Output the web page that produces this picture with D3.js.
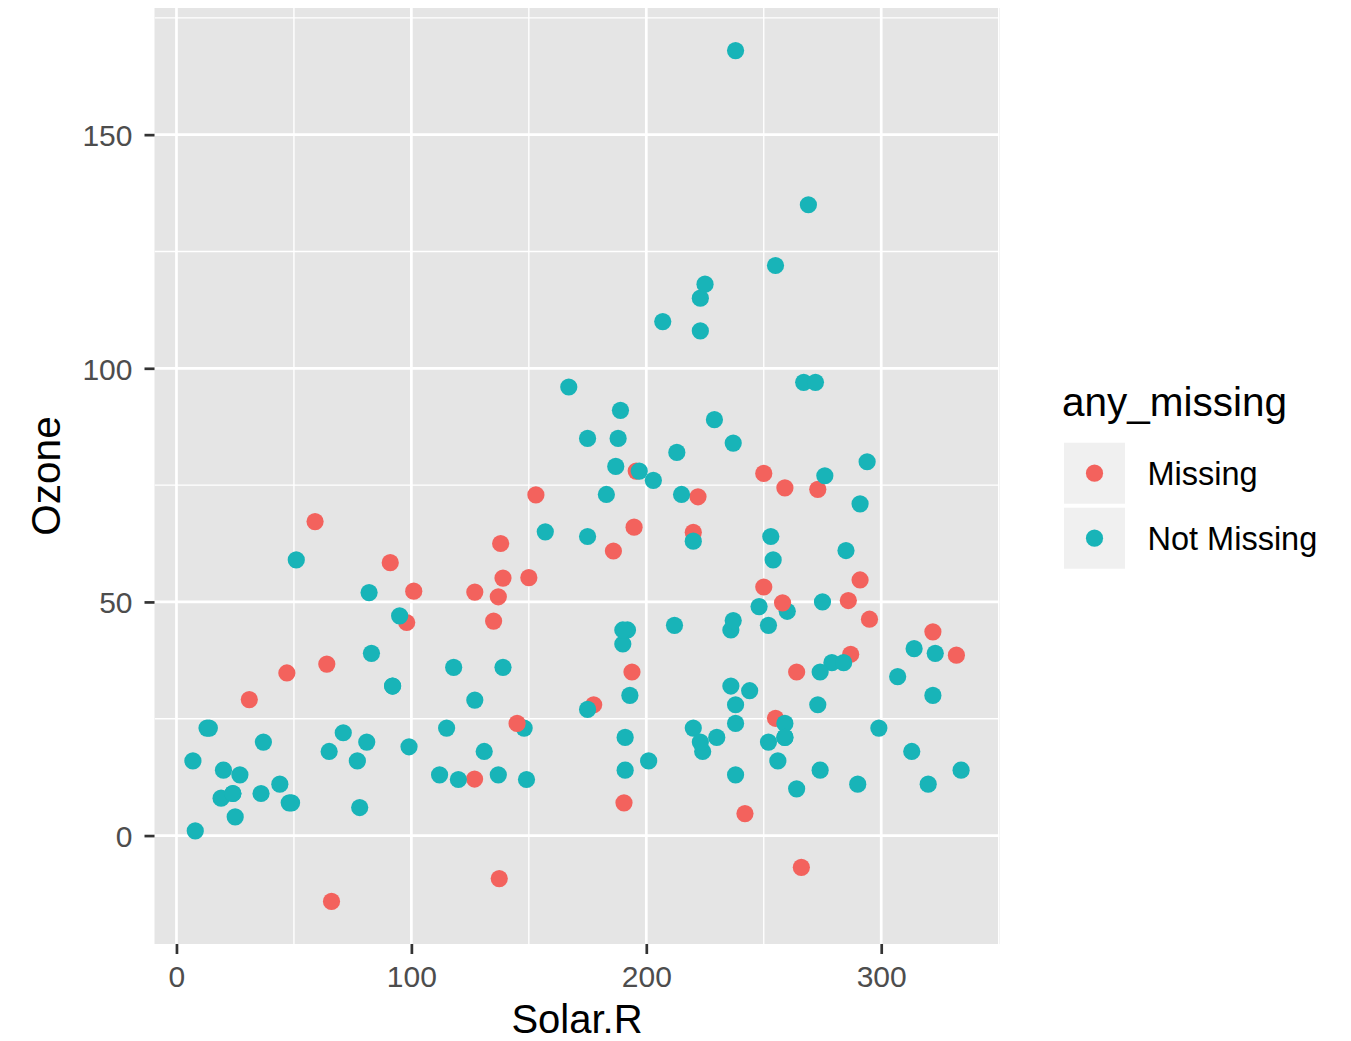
<!DOCTYPE html>
<html>
<head>
<meta charset="utf-8">
<script src="https://cdn.jsdelivr.net/npm/d3@7"></script>
<style>
  html, body { margin: 0; padding: 0; background: #fff; }
  text { font-family: "Liberation Sans", Arial, Helvetica, sans-serif; }
</style>
</head>
<body>
<svg id="chart" width="1351" height="1041"></svg>
<script>
// ---- Data (airquality; complete cases) ----
const notMissingRow = [1,2,3,4,7,8,9,12,13,14,15,16,17,18,19,20,21,22,23,24,28,29,30,31,38,40,41,44,47,48,49,50,51,62,63,64,66,67,68,69,70,71,73,74,76,77,78,79,80,81,82,85,86,87,88,89,90,91,92,93,94,95,99,100,101,104,105,106,108,109,110,111,112,113,114,116,117,118,120,121,122,123,124,125,126,127,128,129,130,131,132,133,134,135,136,137,138,139,140,141,142,143,144,145,146,147,148,149,151,152,153];
const notMissingOzone = [41,36,12,18,23,19,8,16,11,14,18,14,34,6,30,11,1,11,4,32,23,45,115,37,29,71,39,23,21,37,20,12,13,135,49,32,64,40,77,97,97,85,10,27,7,48,35,61,79,63,16,80,108,20,52,82,50,64,59,39,9,16,122,89,110,44,28,65,22,59,23,31,44,21,9,45,168,73,76,118,84,85,96,78,73,91,47,32,20,23,21,24,44,21,28,9,13,46,18,13,24,16,13,23,36,7,14,30,14,18,20];
const notMissingSolar = [190,118,149,313,299,99,19,256,290,274,65,334,307,78,322,44,8,320,25,92,13,252,223,279,127,291,323,148,191,284,37,120,137,269,248,236,175,314,276,267,272,175,264,175,48,260,274,285,187,220,7,294,223,81,82,213,275,253,254,83,24,77,255,229,207,192,273,157,71,51,115,244,190,259,36,212,238,215,203,225,237,188,167,197,183,189,95,92,252,220,230,259,236,259,238,24,112,237,224,27,238,201,238,14,139,49,20,193,191,131,223];

// ---- Data (rows with a missing value; imputed values) ----
const missingRow   = [53,54,65,59,107,58,60,25,119,96,102,98,36,61,35,72,52,57,103,56,97,6,150,27,11,5,43,42,39,55,75,83,32,84,46,45,33,37,115,34,26];
const missingOzone = [67.2,58.4,52.3,45.6,36.7,34.8,29.1,-14.1,72.9,78,72.5,66,64.9,62.5,60.9,55.1,55.2,52.1,51.1,45.9,35,28,24,12.1,7,-9.2,77.5,74.4,74.1,53.2,54.7,49.8,50.3,46.3,43.6,38.6,38.8,35,25.1,4.7,-6.8];
const missingSolar = [59,91,101,98,64,47,31,66,153,195.7,222,194.8,220,138,186,139,150,127,137,135,193.9,177.6,145,126.9,190.5,137.4,250,259,273,250,291,258,286,295,322,332,287,264,255,242,266];

const groups = ["Missing", "Not Missing"];
const groupColors = ["#F3625D", "#18B4B8"];
const xTicks = [0, 100, 200, 300];
const yTicks = [0, 50, 100, 150];
const xMinor = [-50, 50, 150, 250, 350];
const yMinor = [-25, 25, 75, 125, 175];

// ---- Build table in original row order ----
const points = [];
notMissingRow.forEach((r, i) => points.push({row: r, x: notMissingSolar[i], y: notMissingOzone[i], g: "Not Missing"}));
missingRow.forEach((r, i) => points.push({row: r, x: missingSolar[i], y: missingOzone[i], g: "Missing"}));
points.sort((a, b) => a.row - b.row);

// ---- Layout ----
const svg = d3.select("#chart");
const panel = {left: 154.5, right: 999.5, top: 8, bottom: 944};

function expand(ext, f) { const d = (ext[1] - ext[0]) * f; return [ext[0] - d, ext[1] + d]; }
const x = d3.scaleLinear().domain(expand(d3.extent(points, d => d.x), 0.05)).range([panel.left, panel.right]);
const y = d3.scaleLinear().domain(expand(d3.extent(points, d => d.y), 0.05)).range([panel.bottom, panel.top]);
const color = d3.scaleOrdinal().domain(groups).range(groupColors);

svg.append("rect").attr("width", 1351).attr("height", 1041).attr("fill", "#fff");
svg.append("defs").append("clipPath").attr("id", "clip")
  .append("rect").attr("x", panel.left).attr("y", panel.top)
  .attr("width", panel.right - panel.left).attr("height", panel.bottom - panel.top);

svg.append("rect").attr("x", panel.left).attr("y", panel.top)
  .attr("width", panel.right - panel.left).attr("height", panel.bottom - panel.top)
  .attr("fill", "#E5E5E5");

const grid = svg.append("g").attr("clip-path", "url(#clip)");
const inX = v => v >= x.domain()[0] && v <= x.domain()[1];
const inY = v => v >= y.domain()[0] && v <= y.domain()[1];
grid.selectAll(".xminor").data(xMinor.filter(inX)).join("line")
  .attr("x1", d => x(d)).attr("x2", d => x(d)).attr("y1", panel.top).attr("y2", panel.bottom)
  .attr("stroke", "#fff").attr("stroke-width", 1.35);
grid.selectAll(".yminor").data(yMinor.filter(inY)).join("line")
  .attr("y1", d => y(d)).attr("y2", d => y(d)).attr("x1", panel.left).attr("x2", panel.right)
  .attr("stroke", "#fff").attr("stroke-width", 1.35);
grid.selectAll(".xmajor").data(xTicks).join("line")
  .attr("x1", d => x(d)).attr("x2", d => x(d)).attr("y1", panel.top).attr("y2", panel.bottom)
  .attr("stroke", "#fff").attr("stroke-width", 2.7);
grid.selectAll(".ymajor").data(yTicks).join("line")
  .attr("y1", d => y(d)).attr("y2", d => y(d)).attr("x1", panel.left).attr("x2", panel.right)
  .attr("stroke", "#fff").attr("stroke-width", 2.7);

// ---- Points ----
svg.append("g").attr("clip-path", "url(#clip)")
  .selectAll("circle").data(points).join("circle")
  .attr("cx", d => x(d.x)).attr("cy", d => y(d.y)).attr("r", 8.6)
  .attr("fill", d => color(d.g));

// ---- Axes ----
const xAxis = svg.append("g").attr("transform", `translate(0,${panel.bottom})`)
  .call(d3.axisBottom(x).tickValues(xTicks).tickSize(10).tickPadding(12).tickFormat(d3.format("d")));
const yAxis = svg.append("g").attr("transform", `translate(${panel.left},0)`)
  .call(d3.axisLeft(y).tickValues(yTicks).tickSize(10).tickPadding(12).tickFormat(d3.format("d")));
[xAxis, yAxis].forEach(a => {
  a.select(".domain").remove();
  a.selectAll(".tick line").attr("stroke", "#333333").attr("stroke-width", 2.7);
  a.selectAll(".tick text").attr("fill", "#4D4D4D").style("font-size", "30px")
    .style("font-family", "'Liberation Sans', Arial, Helvetica, sans-serif");
});
xAxis.selectAll(".tick text").attr("dy", null).attr("y", 43);
yAxis.selectAll(".tick text").attr("dy", "0.36em");

// ---- Axis titles ----
svg.append("text").attr("x", (panel.left + panel.right) / 2).attr("y", 1033)
  .attr("text-anchor", "middle").style("font-size", "40px").attr("fill", "#000").text("Solar.R");
svg.append("text").attr("transform", `translate(60,${(panel.top + panel.bottom) / 2}) rotate(-90)`)
  .attr("text-anchor", "middle").style("font-size", "40.5px").attr("fill", "#000").text("Ozone");

// ---- Legend ----
const legend = svg.append("g");
legend.append("text").attr("x", 1062).attr("y", 416).style("font-size", "40.5px").attr("fill", "#000").text("any_missing");
const keys = legend.selectAll(".key").data(groups).join("g")
  .attr("transform", (d, i) => `translate(1064,${442.7 + i * 65})`);
keys.append("rect").attr("width", 61).attr("height", 61).attr("fill", "#F0F0F0");
keys.append("circle").attr("cx", 30.5).attr("cy", 30.5).attr("r", 8.6).attr("fill", d => color(d));
keys.append("text").attr("x", 83.5).attr("y", 30.5).attr("dy", "0.36em")
  .style("font-size", "32.5px").attr("fill", "#000").text(d => d);
</script>
</body>
</html>
